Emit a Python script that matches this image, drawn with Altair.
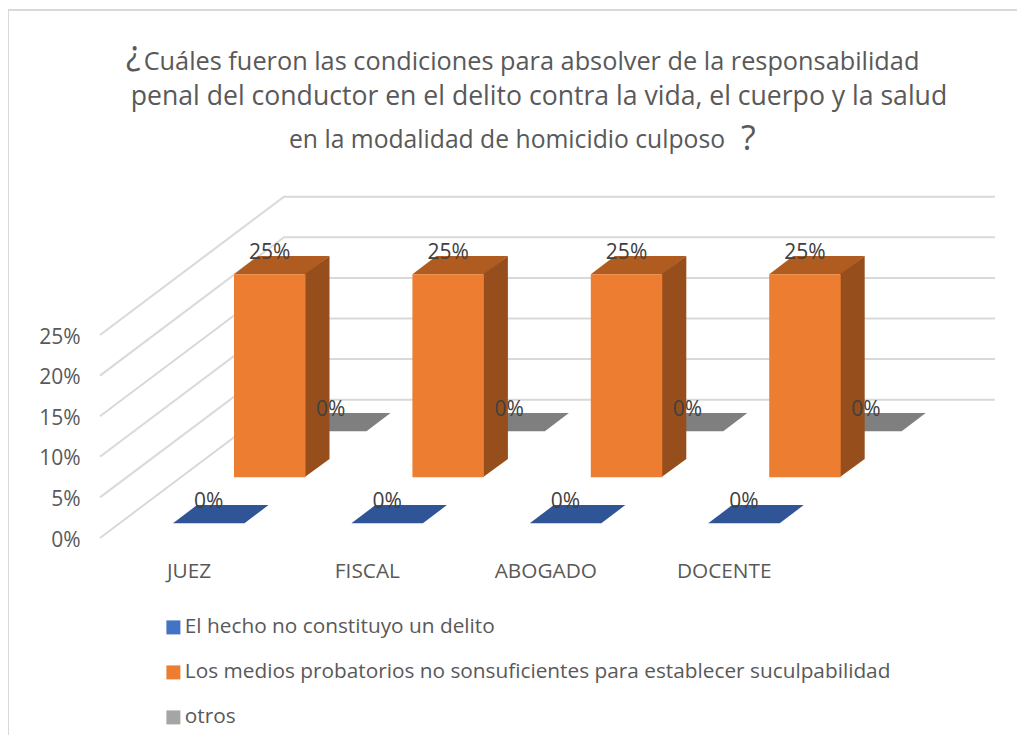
import altair as alt
import pandas as pd

# --- values ---
categories = ["JUEZ", "FISCAL", "ABOGADO", "DOCENTE"]
series_names = [
    "El hecho no constituyo un delito",
    "Los medios probatorios no sonsuficientes para establecer suculpabilidad",
    "otros",
]
serie_delito = [0, 0, 0, 0]
serie_medios = [25, 25, 25, 25]
serie_otros = [0, 0, 0, 0]
y_ticks = [0, 5, 10, 15, 20, 25]

title_lines = [
    "Cuáles fueron las condiciones para absolver de la responsabilidad",
    "penal del conductor en el delito contra la vida, el cuerpo y la salud",
    "en la modalidad de homicidio culposo",
]

# --- oblique projection of the 3-D scene, pixel factors ---
W, H = 1009, 727
PX_PER_CAT = 178.4
PX_PER_PCT = 203 / 25
CAT0_PX = 188.5            # image x of category 0 label
ZERO_PX = 538              # image y of 0 % on the front edge
BAR_LEFT_PX = 234 - CAT0_PX
BAR_W_PX = 71.5
SERIES_DX, SERIES_DY = 61, 46
SLAB_DX, SLAB_DY = 24, 18.2
BASE_ORANGE_DY = 60.7      # height of the middle row base over the front edge
WALL_LEFT, WALL_RIGHT, WALL_DEPTH = 100, 995, 138.3
WALL_DX = 184
SEAM_PX = 1.0              # side face starts under the front face, no hairline between them


def X(cat, px=0.0):
    return cat + px / PX_PER_CAT


def from_px_x(px):
    return (px - CAT0_PX) / PX_PER_CAT


def from_px_y(py):
    return (ZERO_PX - py) / PX_PER_PCT


x_scale = alt.Scale(domain=[from_px_x(8), from_px_x(8 + W)], range=[0, W], nice=False, zero=False)
y_scale = alt.Scale(domain=[from_px_y(8 + H), from_px_y(8)], range=[H, 0], nice=False, zero=False)

all_series = [serie_delito, serie_medios, serie_otros]
shades_top = ["#2F5597", "#B05C20", "#7F7F7F"]
shades_side = ["#2A4D88", "#964F1C", "#6E6E6E"]

fronts, tops, sides, labels = [], [], [], []
for s, (name, values) in enumerate(zip(series_names, all_series)):
    for c, v in enumerate(values):
        off_x = BAR_LEFT_PX + (s - 1) * SERIES_DX
        off_y = (BASE_ORANGE_DY + (1 - s) * -SERIES_DY) / PX_PER_PCT
        base = off_y
        top = base + v
        slab = SLAB_DY / PX_PER_PCT
        key = f"{s}-{c}"
        if v > 0:
            fronts.append(dict(serie=name, x=X(c, off_x), x2=X(c, off_x + BAR_W_PX), y=top, y2=base))
            sides.append(dict(key=key, shade=shades_side[s], x=X(c, off_x + BAR_W_PX - SEAM_PX), y=top, y2=base))
            sides.append(dict(key=key, shade=shades_side[s], x=X(c, off_x + BAR_W_PX + SLAB_DX), y=top + slab, y2=base + slab))
        tops.append(dict(key=key, shade=shades_top[s], y=top, x=X(c, off_x), x2=X(c, off_x + BAR_W_PX)))
        tops.append(dict(key=key, shade=shades_top[s], y=top + slab, x=X(c, off_x + SLAB_DX), x2=X(c, off_x + BAR_W_PX + SLAB_DX)))
        labels.append(dict(x=X(c, off_x + BAR_W_PX / 2), y=top + 21.5 / PX_PER_PCT, txt=f"{v}%"))

grid = []
for t in y_ticks:
    back = t + WALL_DEPTH / PX_PER_PCT
    grid.append(dict(t=t, o=0, x=from_px_x(WALL_LEFT), y=t))
    grid.append(dict(t=t, o=1, x=from_px_x(WALL_LEFT + WALL_DX), y=back))
    grid.append(dict(t=t, o=2, x=from_px_x(WALL_RIGHT), y=back))

legend = alt.Legend(
    title=None, orient="none", legendX=155, legendY=609, symbolType="square", symbolSize=196,
    symbolStrokeWidth=0, labelFontSize=20.8, labelColor="#595959", labelFont="Open Sans", labelLimit=900,
    rowPadding=23, direction="vertical", columns=1, labelOffset=1,
)

x_axis = alt.Axis(
    values=list(range(len(categories))),
    labelExpr="['" + "','".join(categories) + "'][datum.value]",
    labelFont="Open Sans", labelFontSize=20.8, labelColor="#595959", domain=False, ticks=False, grid=False,
    title=None, offset=-(8 + H - 561), labelPadding=0, labelFlush=False, labelOverlap=False,
)
y_axis = alt.Axis(
    values=y_ticks, labelExpr="datum.value + '%'", labelFont="Open Sans", labelFontSize=21,
    labelColor="#595959", domain=False, ticks=False, grid=False, title=None, offset=-72, labelPadding=0,
    labelOffset=2,
)

enc_x = alt.X("x:Q", scale=x_scale, axis=x_axis)

base_grid = alt.Chart(pd.DataFrame(grid)).mark_line(color="#D9D9D9", strokeWidth=2).encode(
    x=enc_x,
    y=alt.Y("y:Q", scale=y_scale, axis=y_axis),
    detail="t:N",
    order="o:Q",
)
top_layer = alt.Chart(pd.DataFrame(tops)).mark_area(orient="horizontal", interpolate="linear").encode(
    y=alt.Y("y:Q", scale=y_scale, axis=y_axis, stack=None),
    x=enc_x,
    x2="x2:Q",
    detail="key:N",
    fill=alt.Fill("shade:N", scale=None),
)
side_layer = alt.Chart(pd.DataFrame(sides)).mark_area(orient="vertical", interpolate="linear").encode(
    x=enc_x,
    y=alt.Y("y:Q", scale=y_scale, axis=y_axis, stack=None),
    y2="y2:Q",
    detail="key:N",
    fill=alt.Fill("shade:N", scale=None),
)
front_layer = alt.Chart(pd.DataFrame(fronts)).mark_rect().encode(
    x=enc_x,
    x2="x2:Q",
    y=alt.Y("y:Q", scale=y_scale, axis=y_axis),
    y2="y2:Q",
    color=alt.Color(
        "serie:N",
        scale=alt.Scale(domain=series_names, range=["#4472C4", "#ED7D31", "#A5A5A5"]),
        legend=legend,
    ),
)
label_layer = alt.Chart(pd.DataFrame(labels)).mark_text(
    font="Open Sans", fontSize=21, color="#404040", baseline="middle", align="center"
).encode(
    x=enc_x,
    y=alt.Y("y:Q", scale=y_scale, axis=y_axis),
    text="txt:N",
)

# frame and title are layout, placed in pixels of the plot area
frame = alt.Chart(pd.DataFrame({"a": [0]})).mark_rule(color="#D9D9D9", strokeWidth=2)
frame_top = frame.encode(x=alt.value(0), x2=alt.value(W), y=alt.value(2))
frame_left = frame.encode(x=alt.value(0), y=alt.value(2), y2=alt.value(H))


def title_text(txt, x, y, size, align="center"):
    return alt.Chart(pd.DataFrame({"t": [txt]})).mark_text(
        font="Open Sans", fontSize=size, color="#595959", align=align, baseline="alphabetic"
    ).encode(x=alt.value(x - 8), y=alt.value(y - 8), text="t:N")


titles = [
    title_text("¿", 126, 65, 34, "left"),
    title_text(title_lines[0], 531.5, 70, 25.3),
    title_text(title_lines[1], 539, 105, 26.6),
    title_text(title_lines[2], 507, 148, 24.7),
    title_text("?", 741, 150, 34, "left"),
]

chart = alt.layer(
    base_grid, top_layer, side_layer, front_layer, label_layer, frame_top, frame_left, *titles
).resolve_scale(color="independent", fill="independent").properties(
    width=W, height=H, padding=0, autosize=alt.AutoSizeParams(type="none"),
    background="white",
).configure_view(stroke=None)

chart.save("out.html", embed_options={"renderer": "svg", "actions": False})
